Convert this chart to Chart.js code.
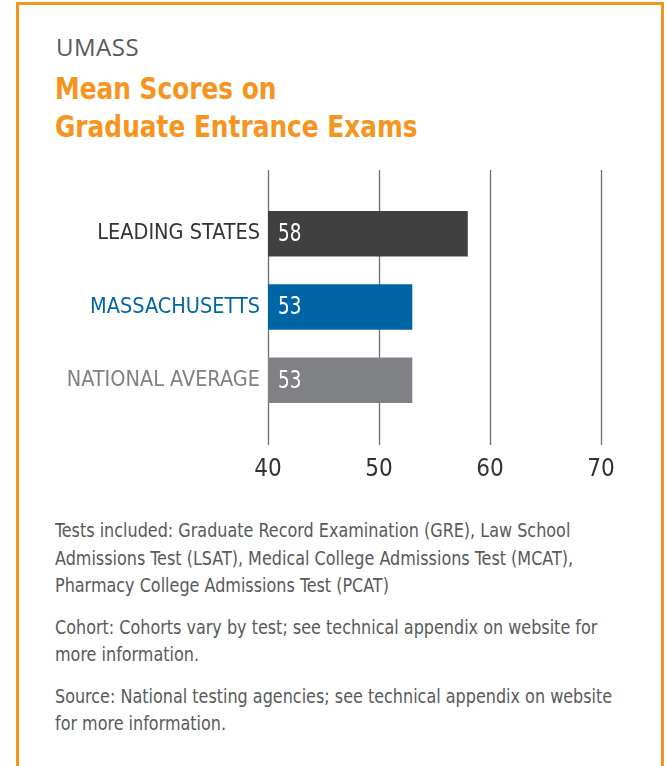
<!DOCTYPE html>
<html>
<head>
<meta charset="utf-8">
<script src="https://cdn.jsdelivr.net/npm/chart.js@4/dist/chart.umd.min.js"></script>
<style>
  body { margin: 0; background: #fff; width: 667px; height: 766px; overflow: hidden; position: relative; }
  .frame { position: absolute; left: 16px; top: 2px; width: 642px; height: 800px; border: 3px solid #F7941D; }
  .narrow { font-family: "DejaVu Sans Condensed", "Liberation Sans Narrow", sans-serif; transform-origin: 0 0; }
  #kicker { position: absolute; left: 56px; top: 30px; font-family: "Open Sans", sans-serif; font-size: 24px; color: #58595b; letter-spacing: 0.5px; }
  #title { position: absolute; left: 55px; top: 69px; font-size: 31px; line-height: 38px; font-weight: bold; color: #F7941D; transform: scaleX(0.89); white-space: nowrap; }
  #notes { position: absolute; left: 55px; top: 517px; font-size: 20px; line-height: 27.5px; color: #58595b; transform: scaleX(0.89); white-space: nowrap; }
  #notes p { margin: 0 0 14px 0; }
  #wrap { position: absolute; left: 20px; top: 160px; width: 620px; height: 330px; }
</style>
</head>
<body>
<div class="frame"></div>
<div id="kicker">UMASS</div>
<div id="title" class="narrow">Mean Scores on<br>Graduate Entrance Exams</div>
<div id="wrap"><canvas id="exam-chart"></canvas></div>
<div id="notes" class="narrow">
  <p>Tests included: Graduate Record Examination (GRE), Law School<br>Admissions Test (LSAT), Medical College Admissions Test (MCAT),<br>Pharmacy College Admissions Test (PCAT)</p>
  <p>Cohort: Cohorts vary by test; see technical appendix on website for<br>more information.</p>
  <p>Source: National testing agencies; see technical appendix on website<br>for more information.</p>
</div>
<script>
/* =================================
  data
==================================== */
const groups = ['LEADING STATES', 'MASSACHUSETTS', 'NATIONAL AVERAGE'];
const scores = [58, 53, 53];
const barColors = ['#404041', '#0065A4', '#808184'];
const labelColors = ['#333333', '#0067A6', '#808184'];
const xTicks = [40, 50, 60, 70];

const narrowFont = '"DejaVu Sans Condensed", "Liberation Sans Narrow", sans-serif';
const examCanvas = document.getElementById('exam-chart');

/* =================================
  plugins
==================================== */
// vertical lines, longer than the plot area
const tallGrid = {
    id: 'tallGrid',
    beforeDatasetsDraw(chart) {
        const ctx = chart.ctx;
        const area = chart.chartArea;
        const xScale = chart.scales.x;
        ctx.save();
        ctx.strokeStyle = '#6d6e71';
        ctx.lineWidth = 1.3;
        xTicks.forEach(v => {
            const x = Math.round(xScale.getPixelForValue(v)) + 0.5;
            ctx.beginPath();
            ctx.moveTo(x, area.top - 27);
            ctx.lineTo(x, area.bottom + 28);
            ctx.stroke();
        });
        ctx.restore();
    }
};

// score printed inside each bar (squeezed a bit, the original face is condensed)
const barValues = {
    id: 'barValues',
    afterDatasetsDraw(chart) {
        const ctx = chart.ctx;
        const xScale = chart.scales.x;
        const left = xScale.getPixelForValue(xScale.min);
        const bars = chart.getDatasetMeta(0).data;
        ctx.save();
        ctx.fillStyle = '#ffffff';
        ctx.font = '24px ' + narrowFont;
        ctx.textAlign = 'left';
        ctx.textBaseline = 'middle';
        bars.forEach((bar, i) => {
            ctx.save();
            ctx.translate(left + 10, bar.y + 1);
            ctx.scale(0.85, 1);
            ctx.fillText(String(scores[i]), 0, 0);
            ctx.restore();
        });
        ctx.restore();
    }
};

/* =================================
  chart
==================================== */
let examData = {
    labels: groups,
    datasets: [{
        data: scores,
        backgroundColor: barColors,
        borderWidth: 0,
        barPercentage: 0.62,
        categoryPercentage: 1
    }]
};

let examOptions = {
    indexAxis: 'y',
    responsive: true,
    maintainAspectRatio: false,
    animation: false,
    layout: {
        padding: { left: 0, top: 37, right: 39, bottom: 0 }
    },
    scales: {
        x: {
            min: 40,
            max: 70,
            afterBuildTicks: (scale) => { scale.ticks = xTicks.map(v => ({ value: v })); },
            afterFit: (scale) => {
                scale.height = 73;
                scale.paddingLeft = 0;
                scale.paddingRight = 0;
            },
            grid: { display: false, drawTicks: false },
            border: { display: false },
            ticks: {
                padding: 38,
                color: '#333333',
                font: { family: narrowFont, size: 24 }
            }
        },
        y: {
            afterFit: (scale) => { scale.width = 248; },
            grid: { display: false, drawTicks: false },
            border: { display: false },
            ticks: {
                padding: 8,
                color: (c) => labelColors[c.index],
                font: { family: narrowFont, size: 21.5 }
            }
        }
    },
    plugins: {
        legend: { display: false },
        tooltip: { enabled: false }
    }
};

let examChart = new Chart(examCanvas, {
    type: 'bar',
    data: examData,
    options: examOptions,
    plugins: [tallGrid, barValues]
});
</script>
</body>
</html>
